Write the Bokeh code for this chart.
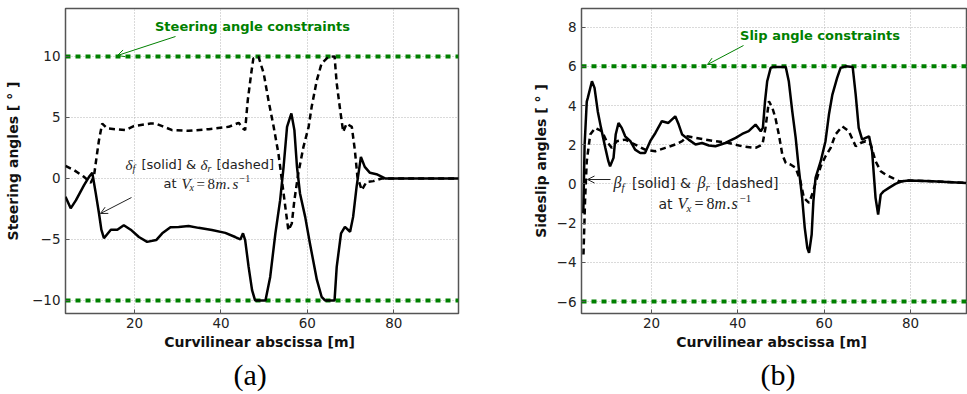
from bokeh.plotting import figure
from bokeh.layouts import row
from bokeh.models import Label, Arrow, OpenHead, FixedTicker, Range1d, Title
from bokeh.embed import file_html
from bokeh.resources import INLINE

# ---------------- data ----------------
steer_limit = 10
slip_limit = 6

df_x = [4.0, 5.2, 6.4, 8.3, 9.45, 10.2, 11.0, 11.75, 12.3, 12.9, 14.5, 16.0, 17.5, 19.1, 21.0, 22.9,
        25.0, 26.4, 28.3, 30.2, 32.5, 34.8, 37.9, 41.0, 43.3, 44.5, 45.1, 45.6, 46.4, 47.2, 47.9, 50.3,
        51.4, 52.6, 53.7, 54.5, 55.3, 56.3, 57.0, 57.6, 58.3, 59.5, 60.6, 62.2, 63.3, 64.1, 66.3, 66.8,
        67.8, 68.7, 69.9, 70.6, 71.4, 72.4, 73.3, 74.5, 76.0, 78.0, 95.0]
df_y = [-1.5, -2.45, -1.8, -0.55, 0.13, 0.46, -1.2, -2.85, -4.2, -4.9, -4.2, -4.2, -3.83, -4.2, -4.8, -5.2,
        -5.05, -4.5, -4.0, -3.97, -3.9, -4.05, -4.23, -4.46, -4.8, -5.0, -4.5, -5.05, -7.25, -9.15, -10.0, -10.0,
        -8.07, -4.5, -1.78, 0.95, 4.23, 5.33, 3.96, 0.95, -1.23, -3.15, -5.33, -8.3, -9.7, -10.0, -10.0, -7.25,
        -4.5, -3.97, -4.37, -3.15, -0.69, 1.77, 0.95, 0.46, 0.35, 0.0, 0.0]

dr_x = [4.0, 6.0, 8.3, 9.85, 10.6, 11.2, 11.75, 12.5, 13.7, 17.9, 19.8, 23.7, 24.9, 26.4, 28.7, 32.5,
        37.2, 41.8, 44.1, 45.1, 45.6, 46.2, 47.0, 47.5, 48.7, 49.9, 51.0, 52.2, 53.3, 54.1, 54.9, 55.6,
        56.4, 57.0, 57.9, 59.1, 60.3, 61.0, 62.2, 63.3, 64.9, 66.3, 66.8, 67.6, 68.3, 69.1, 70.3, 71.0,
        71.6, 72.6, 73.7, 75.3, 77.2, 95.0]
dr_y = [1.03, 0.68, 0.13, -0.36, 0.2, 1.77, 3.14, 4.5, 4.1, 3.96, 4.29, 4.5, 4.5, 4.29, 3.96, 3.9,
        4.04, 4.23, 4.56, 4.1, 3.96, 6.4, 8.6, 9.84, 9.97, 8.6, 6.4, 4.23, 2.05, -0.14, -2.33, -4.24,
        -3.69, -1.78, 0.41, 2.59, 4.23, 5.87, 8.06, 9.43, 9.97, 10.0, 7.8, 5.6, 3.82, 4.5, 4.23, 2.32,
        0.13, -0.96, -0.28, -0.22, 0.0, 0.0]

bf_x = [4.2, 4.5, 5.0, 5.24, 6.2, 6.8, 7.55, 8.3, 9.3, 10.0, 10.4, 11.2, 11.7, 12.35, 13.1, 13.9,
        15.1, 16.2, 17.4, 18.5, 19.7, 20.9, 22.4, 23.9, 25.5, 26.3, 27.1, 28.6, 30.2, 31.7, 33.3, 34.8,
        37.1, 39.5, 41.0, 42.5, 44.1, 45.3, 45.8, 46.3, 46.8, 47.6, 48.3, 51.1, 51.8, 52.6, 53.4, 54.1,
        54.9, 55.5, 56.1, 56.5, 57.1, 57.5, 58.0, 59.2, 60.3, 61.1, 61.9, 63.0, 63.8, 65.0, 66.6, 67.3,
        68.0, 68.8, 69.6, 70.4, 71.1, 71.9, 72.5, 73.1, 73.8, 75.0, 76.5, 78.1, 79.6, 85.0, 92.9]
bf_y = [-1.5, 2.0, 4.2, 4.39, 5.24, 4.9, 3.7, 2.86, 1.84, 1.16, 0.9, 1.33, 2.52, 3.11, 2.86, 2.43,
        2.18, 1.75, 1.58, 1.58, 2.18, 2.6, 3.2, 3.11, 3.45, 3.03, 2.52, 2.26, 2.01, 2.09, 1.96, 1.92,
        2.09, 2.35, 2.55, 2.69, 3.03, 2.69, 2.86, 4.22, 5.24, 5.92, 5.97, 5.97, 5.24, 3.71, 2.35, 0.82,
        -0.71, -2.24, -3.27, -3.52, -2.58, -0.88, 0.31, 1.16, 2.18, 3.54, 4.56, 5.41, 5.92, 6.0, 5.97, 4.56,
        2.86, 2.26, 2.35, 2.43, 1.67, -0.71, -1.56, -0.54, -0.37, -0.2, 0.0, 0.14, 0.17, 0.14, 0.05]

br_x = [4.24, 4.6, 5.0, 5.8, 6.95, 8.5, 9.6, 10.8, 11.96, 13.9, 16.2, 18.5, 20.9, 23.2, 25.5, 27.1,
        28.3, 30.2, 32.5, 34.8, 37.9, 41.0, 44.1, 45.7, 46.4, 47.2, 48.0, 48.7, 49.5, 50.3, 51.1, 52.2,
        53.4, 54.5, 55.3, 56.5, 57.2, 58.0, 59.2, 60.3, 61.5, 62.6, 64.2, 65.7, 67.3, 68.4, 69.6, 70.8,
        71.9, 72.7, 73.1, 74.2, 75.8, 77.3, 78.1, 79.6, 85.0, 92.9]
br_y = [-3.6, -0.88, 1.16, 2.52, 2.86, 2.69, 2.18, 1.84, 2.18, 2.26, 2.01, 1.75, 1.67, 1.84, 2.01, 2.18,
        2.43, 2.35, 2.26, 2.18, 2.09, 1.92, 1.84, 2.01, 2.86, 4.22, 3.88, 3.37, 2.52, 1.5, 1.07, 0.99,
        0.82, 0.14, -0.71, -0.97, -0.54, 0.05, 0.9, 1.41, 1.84, 2.52, 2.94, 2.69, 1.92, 2.09, 2.18, 2.01,
        1.16, 0.82, 0.65, 0.48, 0.31, 0.14, 0.14, 0.17, 0.14, 0.05]

x_ticks = [20, 40, 60, 80]
steer_ticks = [-10, -5, 0, 5, 10]
slip_ticks = [-6, -4, -2, 0, 2, 4, 6, 8]
captions = ["(a)", "(b)"]

# ---------------- helpers ----------------
GREEN = "#008000"
SANS = "DejaVu Sans"
SERIF = "Liberation Serif"
H = 394


def px2data(g, px, py):
    fl, ft, fw, fh, x0, x1, y0, y1 = g
    return x0 + (px - fl) / fw * (x1 - x0), y1 - (py - ft) / fh * (y1 - y0)


def txt(p, g, px, py, text, size=13, font=SANS, style="normal", color="#222222",
        align="left", baseline="middle"):
    x, y = px2data(g, px, py)
    p.add_layout(Label(x=x, y=y, text=text, text_font=font, text_font_size=f"{size}px",
                       text_font_style=style, text_color=color, text_align=align,
                       text_baseline=baseline))


def arrow(p, g, p0, p1, color):
    x0, y0 = px2data(g, *p0)
    x1, y1 = px2data(g, *p1)
    p.add_layout(Arrow(end=OpenHead(size=7, line_color=color, line_width=1),
                       x_start=x0, y_start=y0, x_end=x1, y_end=y1,
                       line_color=color, line_width=1))


def make_fig(width, border_left, border_right, xr, yr, yticks, ylabel, caption, cap_offset):
    p = figure(width=width, height=H, output_backend="svg", toolbar_location=None,
               x_range=Range1d(*xr), y_range=Range1d(*yr),
               min_border_left=border_left, min_border_right=border_right,
               min_border_top=8, min_border_bottom=81)
    p.background_fill_color = "white"
    p.border_fill_color = "white"
    p.outline_line_color = "#555555"
    p.outline_line_width = 1.5
    p.xaxis.ticker = FixedTicker(ticks=x_ticks)
    p.yaxis.ticker = FixedTicker(ticks=yticks)
    p.yaxis.major_label_overrides = {t: ("\u2212" + str(-t)) for t in yticks if t < 0}
    for ax in (p.xaxis, p.yaxis):
        ax.axis_line_color = None
        ax.major_tick_in = 4
        ax.major_tick_out = 0
        ax.major_tick_line_color = "#555555"
        ax.minor_tick_line_color = None
        ax.major_label_text_font = SANS
        ax.major_label_text_font_size = "13.5px"
        ax.major_label_text_color = "#222222"
        ax.axis_label_text_font = SANS
        ax.axis_label_text_font_size = "14px"
        ax.axis_label_text_font_style = "bold"
        ax.axis_label_text_color = "#111111"
    p.xaxis.major_label_standoff = 4
    p.xaxis.axis_label_standoff = 3
    p.yaxis.major_label_standoff = 5
    p.xaxis.axis_label = "Curvilinear abscissa  [m]"
    p.yaxis.axis_label = ylabel
    for gr in (p.xgrid, p.ygrid):
        gr.grid_line_color = "#b5b5b5"
        gr.grid_line_dash = "1 2"
        gr.grid_line_width = 1
    p.add_layout(Title(text=caption, align="left", text_font=SERIF, text_font_size="30px",
                       text_font_style="normal", text_color="black", standoff=6,
                       offset=cap_offset), "below")
    return p


# ---------------- panel (a) ----------------
GA = (65, 8, 393, 305, 4.0, 95.0, -11.07, 13.93)
pa = make_fig(490, 65, 32, (4.0, 95.0), (-11.07, 13.93), steer_ticks,
              "Steering angles [ \u00b0 ]", captions[0], 168)
pa.yaxis.axis_label_standoff = 8
for lim in (steer_limit, -steer_limit):
    pa.line([4.0, 95.0], [lim, lim], line_color=GREEN, line_width=4, line_dash="5 5")
pa.line(df_x, df_y, line_color="black", line_width=2.5)
pa.line(dr_x, dr_y, line_color="black", line_width=2.5, line_dash="6 4")

txt(pa, GA, 252, 26, "Steering angle constraints", style="bold", color=GREEN, align="center")
arrow(pa, GA, (175, 36), (117, 55), GREEN)
txt(pa, GA, 125, 164, "\u03b4", size=15, font=SERIF, style="italic")
txt(pa, GA, 132, 168, "f", size=10, font=SERIF, style="italic")
txt(pa, GA, 141, 164, "[solid] &")
txt(pa, GA, 200, 164, "\u03b4", size=15, font=SERIF, style="italic")
txt(pa, GA, 207, 168, "r", size=10, font=SERIF, style="italic")
txt(pa, GA, 216, 164, "[dashed]")
txt(pa, GA, 163, 183, "at")
txt(pa, GA, 181, 183, "V", size=15, font=SERIF, style="italic")
txt(pa, GA, 189, 187, "x", size=10, font=SERIF, style="italic")
txt(pa, GA, 196, 183, "=", size=15, font=SERIF)
txt(pa, GA, 207, 183, "8", size=15, font=SERIF)
txt(pa, GA, 215, 183, "m", size=15, font=SERIF, style="italic")
txt(pa, GA, 226, 183, ".", size=15, font=SERIF)
txt(pa, GA, 232, 183, "s", size=15, font=SERIF, style="italic")
txt(pa, GA, 239, 178, "\u22121", size=10, font=SERIF)
arrow(pa, GA, (131, 197), (100, 213), "#222222")

# ---------------- panel (b) ----------------
GB = (581, 8, 385, 305, 3.78, 92.97, -6.61, 8.95)
pb = make_fig(477, 91, 1, (3.78, 92.97), (-6.61, 8.95), slip_ticks,
              "Sideslip angles [ \u00b0 ]", captions[1], 179)
pb.yaxis.axis_label_standoff = 5
for lim in (slip_limit, -slip_limit):
    pb.line([3.78, 92.97], [lim, lim], line_color=GREEN, line_width=4, line_dash="5 5")
pb.line(bf_x, bf_y, line_color="black", line_width=2.5)
pb.line(br_x, br_y, line_color="black", line_width=2.5, line_dash="6 4")

txt(pb, GB, 819.5, 35, "Slip angle constraints", style="bold", color=GREEN, align="center")
arrow(pb, GB, (743, 45), (707, 64), GREEN)
arrow(pb, GB, (610, 179), (587, 179), "#222222")
txt(pb, GB, 613, 182, "\u03b2", size=16, font=SERIF, style="italic")
txt(pb, GB, 621, 186, "f", size=11, font=SERIF, style="italic")
txt(pb, GB, 631.5, 182, "[solid] &", size=14)
txt(pb, GB, 697, 182, "\u03b2", size=16, font=SERIF, style="italic")
txt(pb, GB, 705, 186, "r", size=11, font=SERIF, style="italic")
txt(pb, GB, 716, 182, "[dashed]", size=14)
txt(pb, GB, 658, 203, "at", size=14)
txt(pb, GB, 677, 203, "V", size=16, font=SERIF, style="italic")
txt(pb, GB, 686, 207, "x", size=11, font=SERIF, style="italic")
txt(pb, GB, 694, 203, "=", size=16, font=SERIF)
txt(pb, GB, 706, 203, "8", size=16, font=SERIF)
txt(pb, GB, 714, 203, "m", size=16, font=SERIF, style="italic")
txt(pb, GB, 726, 203, ".", size=16, font=SERIF)
txt(pb, GB, 731, 203, "s", size=16, font=SERIF, style="italic")
txt(pb, GB, 739, 198, "\u22121", size=11, font=SERIF)

layout = row(pa, pb)
open("out.html", "w").write(file_html(layout, INLINE))
